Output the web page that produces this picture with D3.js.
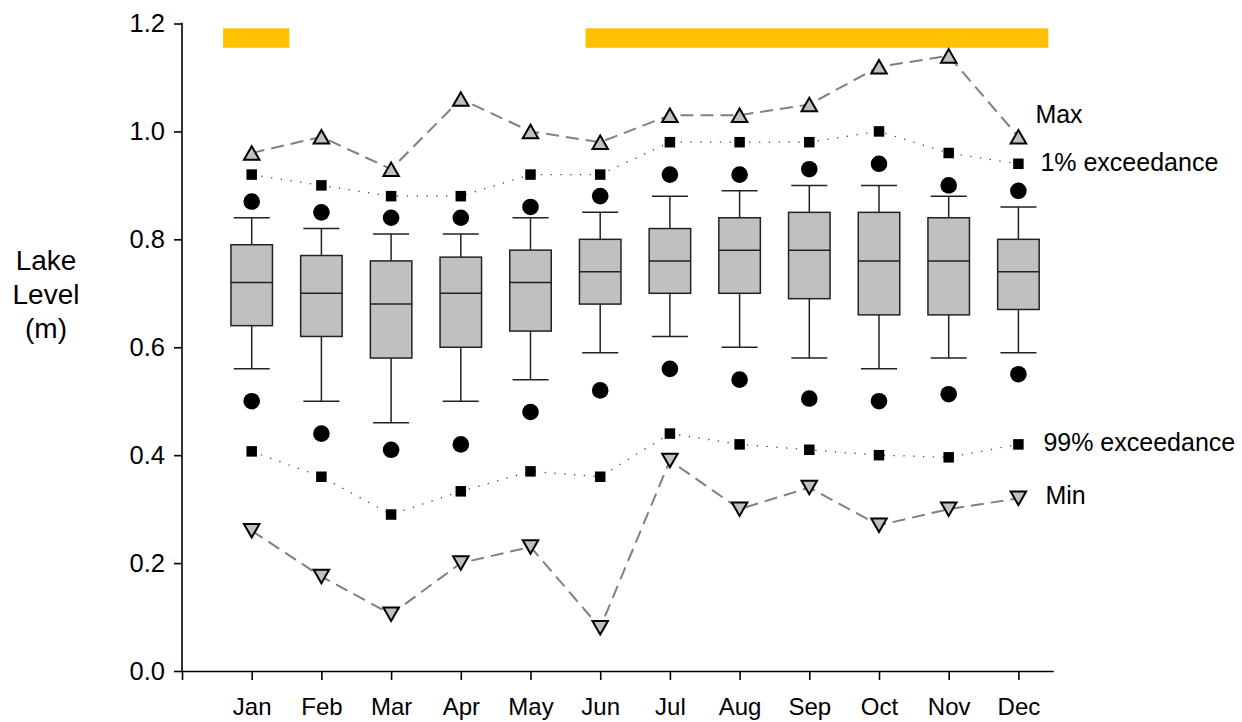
<!DOCTYPE html>
<html>
<head>
<meta charset="utf-8">
<script src="https://cdn.jsdelivr.net/npm/d3@7"></script>
<style>
  body { margin: 0; background: #fff; }
  svg text { font-family: "Liberation Sans", Arial, sans-serif; fill: #000; }
</style>
</head>
<body>
<svg id="chart" width="1242" height="722"></svg>
<script>
// Monthly lake level box plot with exceedance and min/max series.

const months = ['Jan', 'Feb', 'Mar', 'Apr', 'May', 'Jun', 'Jul', 'Aug', 'Sep', 'Oct', 'Nov', 'Dec'];
const yTicks = [0, 0.2, 0.4, 0.6, 0.8, 1.0, 1.2];

// box plot stats per month
const whiskerLow  = [0.56, 0.50, 0.46, 0.50, 0.54, 0.59, 0.62, 0.60, 0.58, 0.56, 0.58, 0.59];
const q1          = [0.64, 0.62, 0.58, 0.60, 0.63, 0.68, 0.70, 0.70, 0.69, 0.66, 0.66, 0.67];
const median      = [0.72, 0.70, 0.68, 0.70, 0.72, 0.74, 0.76, 0.78, 0.78, 0.76, 0.76, 0.74];
const q3          = [0.79, 0.77, 0.76, 0.767, 0.78, 0.80, 0.82, 0.84, 0.85, 0.85, 0.84, 0.80];
const whiskerHigh = [0.84, 0.82, 0.81, 0.81, 0.84, 0.85, 0.88, 0.89, 0.90, 0.90, 0.88, 0.86];
const outlierHigh = [0.87, 0.85, 0.84, 0.84, 0.86, 0.88, 0.92, 0.92, 0.93, 0.94, 0.90, 0.89];
const outlierLow  = [0.50, 0.44, 0.41, 0.42, 0.48, 0.52, 0.56, 0.54, 0.505, 0.50, 0.513, 0.55];

// series
const maxLevel = [0.96, 0.99, 0.93, 1.06, 1.00, 0.98, 1.03, 1.03, 1.05, 1.12, 1.14, 0.99];
const exc1     = [0.92, 0.90, 0.88, 0.88, 0.92, 0.92, 0.98, 0.98, 0.98, 1.00, 0.96, 0.94];
const exc99    = [0.407, 0.36, 0.29, 0.333, 0.37, 0.36, 0.44, 0.42, 0.41, 0.40, 0.396, 0.42];
const minLevel = [0.26, 0.175, 0.105, 0.20, 0.23, 0.08, 0.39, 0.30, 0.34, 0.27, 0.30, 0.32];

// highlighted periods (month index units) along the top
const periods = [[0.59, 1.54], [5.79, 12.43]];
const periodBand = [1.155, 1.191];

const svg = d3.select('#chart');

const x = d3.scaleLinear().domain([0, 12.5]).range([182, 1053.25]);
const y = d3.scaleLinear().domain([0, 1.2]).range([671, 23.5]);
const mx = i => x(i + 1);

// axes
const yAxis = svg.append('g')
  .attr('transform', `translate(${x(0)},0)`)
  .call(d3.axisLeft(y).tickValues(yTicks).tickFormat(d3.format('.1f')).tickSize(8).tickPadding(9));

const xAxis = svg.append('g')
  .attr('transform', `translate(0,${y(0)})`)
  .call(d3.axisBottom(x).tickValues([0].concat(months.map((m, i) => i + 1)))
    .tickFormat(d => d === 0 ? '' : months[d - 1]).tickSize(9).tickSizeOuter(0).tickPadding(18));

[yAxis, xAxis].forEach(a => {
  a.select('.domain').attr('stroke', '#000').attr('stroke-width', 1.6);
  a.selectAll('.tick line').attr('stroke', '#000').attr('stroke-width', 1.6);
  a.selectAll('.tick text').attr('font-size', 24).attr('font-family', '"Liberation Sans", Arial, sans-serif').attr('fill', '#000');
});
yAxis.selectAll('.tick text').attr('font-size', 25.5);
yAxis.select('.domain').attr('d', `M0,${y(0)}V${y(1.2)}H-1`);

// y label
svg.append('text')
  .attr('text-anchor', 'middle')
  .attr('font-size', 28)
  .selectAll('tspan')
  .data(['Lake', 'Level', '(m)'])
  .join('tspan')
  .attr('x', 46)
  .attr('y', (d, i) => 270 + i * 34)
  .text(d => d);

// period bars
svg.append('g').selectAll('rect')
  .data(periods)
  .join('rect')
  .attr('x', d => x(d[0]))
  .attr('width', d => x(d[1]) - x(d[0]))
  .attr('y', y(periodBand[1]))
  .attr('height', y(periodBand[0]) - y(periodBand[1]))
  .attr('fill', '#ffc000');

// boxes
const boxW = 41.5, capW = 36;
const boxes = svg.append('g');
months.forEach((m, i) => {
  const cx = mx(i);
  const g = boxes.append('g').attr('stroke', '#222').attr('stroke-width', 1.5);
  g.append('line').attr('x1', cx).attr('x2', cx).attr('y1', y(whiskerHigh[i])).attr('y2', y(q3[i]));
  g.append('line').attr('x1', cx).attr('x2', cx).attr('y1', y(q1[i])).attr('y2', y(whiskerLow[i]));
  g.append('line').attr('x1', cx - capW / 2).attr('x2', cx + capW / 2).attr('y1', y(whiskerHigh[i])).attr('y2', y(whiskerHigh[i]));
  g.append('line').attr('x1', cx - capW / 2).attr('x2', cx + capW / 2).attr('y1', y(whiskerLow[i])).attr('y2', y(whiskerLow[i]));
  g.append('rect')
    .attr('x', cx - boxW / 2).attr('width', boxW)
    .attr('y', y(q3[i])).attr('height', y(q1[i]) - y(q3[i]))
    .attr('fill', '#c0c0c0');
  g.append('line').attr('x1', cx - boxW / 2).attr('x2', cx + boxW / 2).attr('y1', y(median[i])).attr('y2', y(median[i]));
});

// outlier dots
svg.append('g').selectAll('circle')
  .data(outlierHigh.map((v, i) => [i, v]).concat(outlierLow.map((v, i) => [i, v])))
  .join('circle')
  .attr('cx', d => mx(d[0]))
  .attr('cy', d => y(d[1]))
  .attr('r', 8.3)
  .attr('fill', '#000');

// lines
const line = d3.line().x((d, i) => mx(i)).y(d => y(d));

[maxLevel, minLevel].forEach(s => {
  svg.append('path').attr('d', line(s))
    .attr('fill', 'none').attr('stroke', '#808080').attr('stroke-width', 2)
    .attr('stroke-dasharray', '13,7');
});
[exc1, exc99].forEach(s => {
  svg.append('path').attr('d', line(s))
    .attr('fill', 'none').attr('stroke', '#444').attr('stroke-width', 1.3)
    .attr('stroke-dasharray', '1.3,8.5');
});

// squares
const sq = 10.5;
[exc1, exc99].forEach(s => {
  svg.append('g').selectAll('rect')
    .data(s)
    .join('rect')
    .attr('x', (d, i) => mx(i) - sq / 2)
    .attr('y', d => y(d) - sq / 2)
    .attr('width', sq).attr('height', sq)
    .attr('fill', '#000');
});

// triangles
const tw = 15.5, th = 13.5;
function tri(cx, cy, up) {
  const t = up ? -th / 2 : th / 2;
  return `M${cx},${cy + t}L${cx + tw / 2},${cy - t}L${cx - tw / 2},${cy - t}Z`;
}
[[maxLevel, true], [minLevel, false]].forEach(([s, up]) => {
  svg.append('g').selectAll('path')
    .data(s)
    .join('path')
    .attr('d', (d, i) => tri(mx(i), y(d), up))
    .attr('fill', '#c0c0c0').attr('stroke', '#000').attr('stroke-width', 2)
    .attr('stroke-linejoin', 'miter');
});

// series labels
const last = months.length - 1;
const labels = [
  { text: 'Max', v: maxLevel[last], dx: 17, dy: -14 },
  { text: '1% exceedance', v: exc1[last], dx: 22, dy: 7 },
  { text: '99% exceedance', v: exc99[last], dx: 25, dy: 7 },
  { text: 'Min', v: minLevel[last], dx: 27, dy: 6 }
];
svg.append('g').selectAll('text')
  .data(labels)
  .join('text')
  .attr('x', d => mx(last) + d.dx)
  .attr('y', d => y(d.v) + d.dy)
  .attr('font-size', 25)
  .text(d => d.text);
</script>
</body>
</html>
